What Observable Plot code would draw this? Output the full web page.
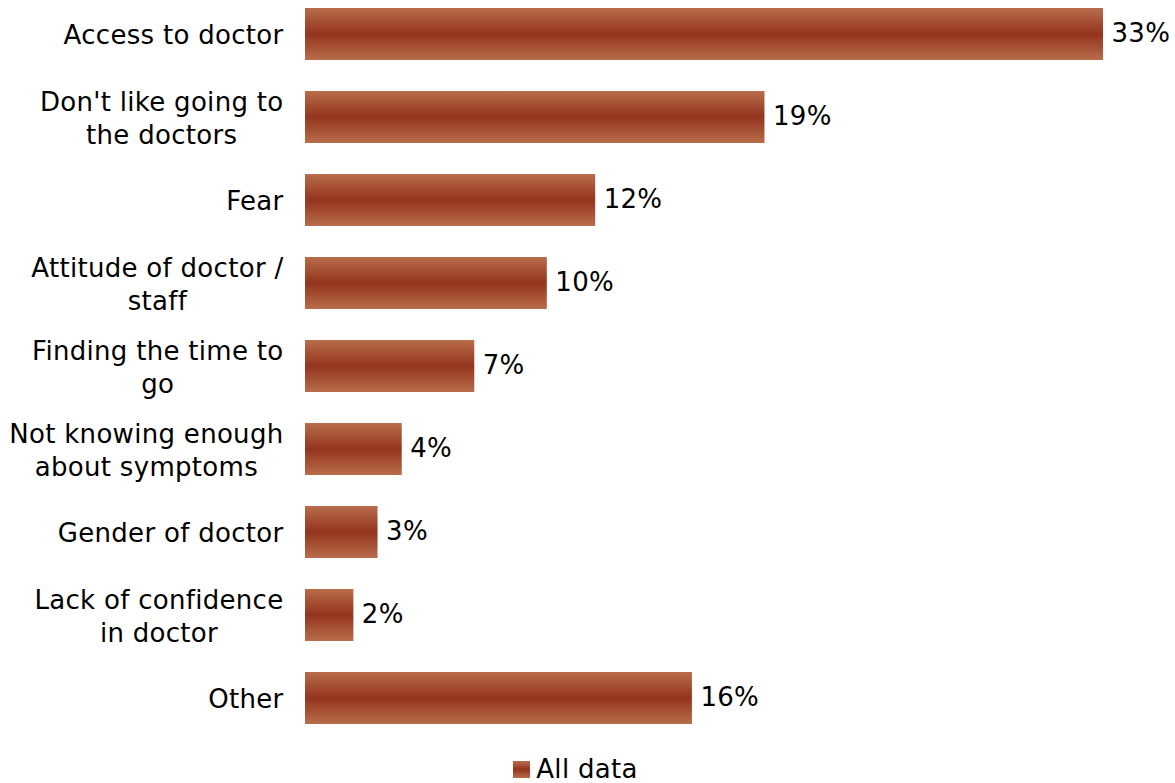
<!DOCTYPE html>
<html>
<head>
<meta charset="utf-8">
<script src="https://cdn.jsdelivr.net/npm/d3@7"></script>
<script src="https://cdn.jsdelivr.net/npm/@observablehq/plot@0.6"></script>
<style>
  html, body { margin: 0; padding: 0; background: #fff; }
  #chart { width: 1175px; }
  #chart svg text { letter-spacing: 0.3px; }
  .legend { display: flex; justify-content: center; align-items: center; font-family: "DejaVu Sans", Verdana, sans-serif; font-size: 26px; line-height: 28px; letter-spacing: 0.3px; color: #000; margin-top: 10px; padding-right: 24px; }
  .legend .sw { width: 17px; height: 17px; margin-right: 6px; background: linear-gradient(to bottom, #b86d4b, #94341e 50%, #b86d4b); }
</style>
</head>
<body>
<div id="chart"></div>
<script>
const categories = [
  "Access to doctor",
  "Don't like going to the doctors",
  "Fear",
  "Attitude of doctor / staff",
  "Finding the time to go",
  "Not knowing enough about symptoms",
  "Gender of doctor",
  "Lack of confidence in doctor",
  "Other"
];
const tickLabels = [
  "Access to doctor",
  "Don't like going to\nthe doctors",
  "Fear",
  "Attitude of doctor /\nstaff",
  "Finding the time to\ngo",
  "Not knowing enough\nabout symptoms",
  "Gender of doctor",
  "Lack of confidence\nin doctor",
  "Other"
];
const values = [33, 19, 12, 10, 7, 4, 3, 2, 16];
const seriesName = "All data";

const data = categories.map((c, i) => ({category: c, label: tickLabels[i], value: values[i]}));

const gradientDefs = () => {
  const defs = d3.create("svg:defs");
  const g = defs.append("linearGradient").attr("id", "barGrad")
    .attr("x1", 0).attr("y1", 0).attr("x2", 0).attr("y2", 1);
  g.append("stop").attr("offset", "0%").attr("stop-color", "#b86d4b");
  g.append("stop").attr("offset", "50%").attr("stop-color", "#94341e");
  g.append("stop").attr("offset", "100%").attr("stop-color", "#b86d4b");
  return defs.node();
};

const chart = Plot.plot({
  width: 1175,
  height: 745,
  marginLeft: 305,
  marginRight: 72,
  marginTop: 0,
  marginBottom: 0,
  style: {fontFamily: "'DejaVu Sans', Verdana, sans-serif", fontSize: "26px", color: "#000", background: "#fff"},
  x: {domain: [0, 33], range: [305, 1103], axis: null},
  y: {domain: categories, range: [-23, 755], padding: 31/83, round: false, axis: null},
  marks: [
    gradientDefs,
    Plot.barX(data, {x: "value", y: "category", fill: "url(#barGrad)"}),
    Plot.text(data, {x: 0, y: "category", text: "label", textAnchor: "end", dx: -22, dy: -1, lineHeight: 1.27, fill: "#000", fontSize: 26, className: "ylabels"}),
    Plot.text(data, {x: "value", y: "category", text: d => d.value + "%", textAnchor: "start", dx: 8, dy: -1, fill: "#000", fontSize: 26})
  ]
});
document.getElementById("chart").appendChild(chart);

// center-align the lines of multi-line category labels within their right-aligned block
chart.querySelectorAll("g.ylabels text").forEach(t => {
  const spans = t.querySelectorAll("tspan");
  if (spans.length > 1) {
    const w = Math.max(...Array.from(spans, s => s.getComputedTextLength()));
    t.setAttribute("text-anchor", "middle");
    spans.forEach(s => s.setAttribute("x", -w / 2));
  }
});

const legend = document.createElement("div");
legend.className = "legend";
legend.innerHTML = `<span class="sw"></span><span>${seriesName}</span>`;
document.getElementById("chart").appendChild(legend);
</script>
</body>
</html>
